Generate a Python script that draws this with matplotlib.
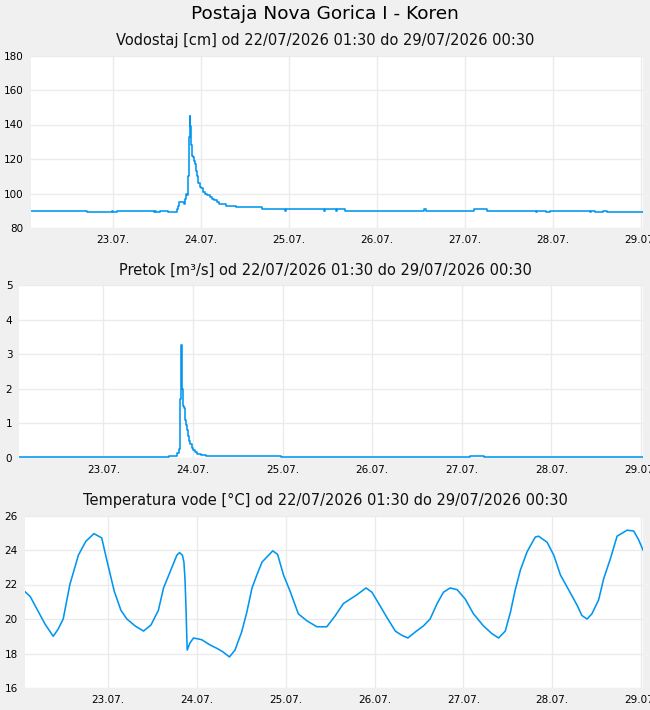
import matplotlib.pyplot as plt
import matplotlib.dates as mdates
import numpy as np
from datetime import datetime, timedelta

start = datetime(2026, 7, 22, 1, 30)
end = datetime(2026, 7, 29, 0, 30)

# vodostaj [cm] - (ure od zacetka, vrednost)
level_h = [0, 15.3, 22.1, 22.4, 23.5, 33.7, 34.0, 34.2, 35.3, 37.6, 39.9, 40.3, 40.6,
           41.9, 42.1, 42.3, 42.6, 42.9, 43.1, 43.4, 43.6, 43.8, 44.0, 44.4, 44.7,
           44.9, 45.2, 45.5, 45.8, 46.1, 46.6, 47.1, 47.5, 48.2, 48.9, 49.5, 50.0,
           50.8, 51.5, 53.3, 56.0, 63.0, 69.3, 69.6, 80.0, 80.3, 83.4, 83.7, 85.8,
           107.2, 107.7, 120.8, 124.4, 137.7, 138.0, 140.6, 141.7, 152.5, 152.8,
           154.0, 156.2, 157.1, 167]
level_v = [90, 89, 90, 89, 90, 89, 90, 89, 90, 89, 91, 93, 95,
           94, 97, 100, 99, 110, 133, 145, 139, 128, 122, 121, 119,
           117, 113, 110, 106, 104, 103, 101, 100, 99, 98, 97, 96,
           95, 94, 93, 92, 91, 90, 91, 90, 91, 90, 91, 90,
           91, 90, 91, 90, 89, 90, 89, 90, 89, 90,
           89, 90, 89, 89]

# pretok [m3/s]
flow_h = [0, 40.0, 41.8, 42.3, 42.7, 43.0, 43.3, 43.5, 43.6, 43.8, 44.1, 44.3, 44.6,
          45.0, 45.2, 45.5, 45.8, 46.2, 46.6, 47.0, 47.7, 48.6, 50.0, 52.6, 70.0,
          120.8, 124.4, 167]
flow_v = [0.02, 0.05, 0.07, 0.15, 0.25, 1.7, 3.27, 2.85, 2.0, 1.5, 1.45, 1.1, 0.95,
          0.8, 0.65, 0.5, 0.4, 0.3, 0.22, 0.17, 0.13, 0.1, 0.07, 0.05, 0.04,
          0.06, 0.03, 0.02]

# temperatura vode [°C]
temp_h = [0, 1.5, 3.5, 5.5, 7.7, 9.0, 10.4, 12.2, 14.5, 16.5, 18.7, 20.8, 22.3, 24.2,
          26.0, 27.6, 29.8, 32.1, 34.1, 36.1, 37.5, 39.3, 41.1, 41.8, 42.6, 43.0,
          43.3, 43.6, 43.8, 43.9, 44.6, 45.6, 47.8, 50.0, 51.9, 53.5, 55.3, 56.8,
          58.6, 60.0, 61.4, 62.7, 64.1, 67.0, 68.3, 69.9, 71.7, 73.9, 76.2, 78.9,
          81.6, 83.9, 86.1, 87.9, 89.7, 92.2, 93.8, 95.6, 97.8, 100.1, 101.9, 103.5,
          105.5, 107.7, 109.5, 111.4, 113.1, 114.9, 116.8, 119.0, 121.2, 123.9,
          126.2, 128.0, 129.8, 131.2, 132.5, 133.9, 135.7, 137.9, 138.8, 141.1,
          142.9, 144.7, 146.9, 149.2, 150.5, 151.9, 153.2, 155.0, 156.4, 158.2,
          160.0, 162.7, 164.5, 165.8, 167]
temp_v = [21.6, 21.3, 20.5, 19.7, 19.0, 19.4, 20.0, 22.0, 23.7, 24.5, 24.95, 24.7, 23.3, 21.6,
          20.5, 20.0, 19.6, 19.3, 19.65, 20.5, 21.8, 22.75, 23.7, 23.85, 23.7, 23.3,
          22.3, 20.4, 18.8, 18.2, 18.6, 18.9, 18.8, 18.5, 18.3, 18.1, 17.8, 18.2,
          19.25, 20.4, 21.8, 22.55, 23.3, 23.95, 23.75, 22.55, 21.6, 20.3, 19.9, 19.55,
          19.55, 20.2, 20.9, 21.15, 21.4, 21.8, 21.55, 20.9, 20.1, 19.3, 19.05, 18.9,
          19.25, 19.6, 20.0, 20.9, 21.55, 21.8, 21.7, 21.15, 20.3, 19.6,
          19.15, 18.9, 19.3, 20.4, 21.7, 22.85, 23.9, 24.75, 24.8, 24.45,
          23.7, 22.55, 21.7, 20.8, 20.2, 20.0, 20.3, 21.1, 22.35, 23.5,
          24.8, 25.15, 25.1, 24.6, 24.0]

bg = '#f0f0f0'
line_col = '#0096ef'
grid_col = '#ebebeb'

fig = plt.figure(figsize=(6.5, 7.1), dpi=100, facecolor=bg)
W, H = 650, 710


def make_ax(left, top, bottom, right=643):
    return fig.add_axes([left / W, 1 - bottom / H, (right - left) / W, (bottom - top) / H])


def to_dates(hours):
    return [start + timedelta(hours=h) for h in hours]


panels = [
    (make_ax(30.5, 55.5, 228), level_h, level_v, (80, 180), np.arange(80, 181, 20), 'steps-post',
     'Vodostaj [cm] od 22/07/2026 01:30 do 29/07/2026 00:30', 40),
    (make_ax(19.3, 285, 458), flow_h, flow_v, (0, 5), np.arange(0, 6, 1), 'steps-post',
     'Pretok [m³/s] od 22/07/2026 01:30 do 29/07/2026 00:30', 270),
    (make_ax(24.7, 515.5, 688), temp_h, temp_v, (16, 26), np.arange(16, 27, 2), 'default',
     'Temperatura vode [°C] od 22/07/2026 01:30 do 29/07/2026 00:30', 500),
]

for ax, hh, vv, ylim, yt, ds, title, ty in panels:
    ax.set_facecolor('white')
    ax.plot(to_dates(hh), vv, color=line_col, lw=1.15, drawstyle=ds)
    ax.set_xlim(start, end)
    ax.set_ylim(*ylim)
    ax.set_yticks(yt)
    ax.xaxis.set_major_locator(mdates.DayLocator())
    ax.xaxis.set_major_formatter(mdates.DateFormatter('%d.%m.'))
    ax.grid(True, color=grid_col, lw=1)
    ax.set_axisbelow(True)
    for s in ax.spines.values():
        s.set_visible(False)
    ax.tick_params(length=0, labelsize=7.5, pad=5)
    fig.text(0.5, 1 - ty / H, title, ha='center', va='center', fontsize=10.5, color='#111111')

fig.text(0.5, 1 - 14 / H, 'Postaja Nova Gorica I - Koren', ha='center', va='center',
         fontsize=13.3, color='black')

fig.savefig('out.png', dpi=100, facecolor=bg)
